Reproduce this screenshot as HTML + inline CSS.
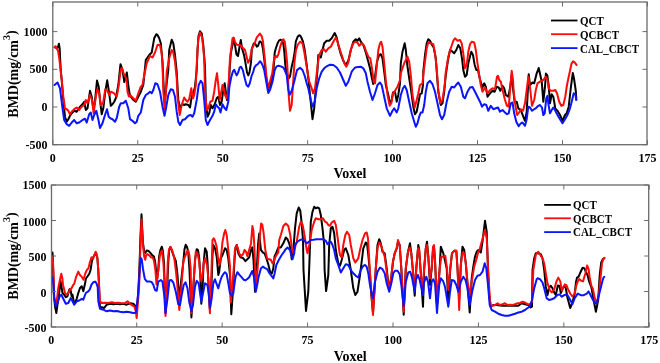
<!DOCTYPE html>
<html><head><meta charset="utf-8"><style>
html,body{margin:0;padding:0;background:#fff;overflow:hidden;width:660px;height:363px;}
svg{display:block;}
text{filter:grayscale(1);}
text{font-family:"Liberation Serif",serif;font-weight:bold;fill:#000;}
.tk{font-size:12px;}
.al{font-size:14px;}
.lg{font-size:11px;}
</style></head><body>
<svg width="660" height="363" viewBox="0 0 660 363">
<rect width="660" height="363" fill="#fff"/>
<clipPath id="c2"><rect x="52.8" y="2.0" width="594.2" height="142.7"/></clipPath>
<polyline clip-path="url(#c2)" points="55.0,46.8 56.8,48.6 58.1,46.8 58.9,43.7 59.7,48.6 60.2,59.8 60.9,72.2 61.7,80.0 63.3,100.0 65.0,116.7 66.7,121.7 68.3,119.2 70.0,115.8 71.7,113.3 74.2,110.8 76.7,111.7 80.0,106.7 82.5,104.2 84.2,101.7 85.8,110.0 87.5,108.3 90.0,90.8 91.7,96.7 93.3,108.3 94.7,104.2 97.0,80.5 98.7,86.7 100.0,100.0 101.7,114.2 103.3,108.3 105.3,91.7 107.2,80.3 109.2,93.3 110.8,105.8 112.5,104.2 114.2,101.7 115.8,98.3 118.3,85.0 120.5,64.2 122.5,70.0 124.3,82.0 126.8,72.4 128.3,85.0 129.5,93.5 130.8,96.7 133.3,100.0 135.8,101.7 138.3,96.7 140.8,91.7 143.3,85.0 145.8,60.0 149.2,55.0 151.7,52.5 154.2,38.3 156.3,34.2 157.5,35.0 159.2,38.3 160.8,43.3 162.5,61.7 164.2,98.0 164.8,101.0 166.7,83.3 168.3,70.0 169.2,50.0 171.7,39.7 173.3,43.3 175.0,55.0 176.7,71.7 178.3,100.0 180.0,107.5 181.7,105.0 182.5,104.2 184.2,105.0 185.8,104.2 188.3,105.0 190.0,107.5 191.7,96.7 193.3,93.3 195.0,86.7 196.7,70.0 197.5,50.0 198.5,36.0 200.0,31.3 201.7,33.3 203.3,45.0 205.0,66.7 205.8,100.0 207.5,116.7 209.2,113.3 210.8,105.0 212.5,108.3 214.7,104.2 216.7,98.3 218.3,96.7 220.0,105.0 221.7,101.7 223.3,90.0 224.7,83.3 225.8,91.7 227.0,100.0 228.3,91.7 229.5,72.0 230.8,53.3 233.3,40.8 234.7,43.3 236.5,54.5 238.0,56.0 239.5,47.0 240.8,40.0 242.0,48.3 244.2,55.8 245.4,62.4 247.0,72.3 248.3,75.4 249.5,72.3 251.0,62.4 251.8,49.0 253.7,43.5 255.5,44.1 256.8,46.6 258.0,46.0 259.6,41.6 260.5,41.6 261.7,42.9 263.0,49.1 264.2,59.0 265.4,70.1 266.5,80.0 268.3,89.0 270.5,84.0 272.5,77.0 273.5,70.0 274.7,52.8 276.0,47.8 277.5,43.5 279.1,40.4 280.9,39.8 282.2,40.4 283.4,44.1 284.4,52.8 285.3,65.2 286.7,73.3 288.7,78.3 290.0,76.7 291.7,66.7 293.3,60.0 294.6,52.8 295.8,41.6 297.7,36.7 299.2,35.3 300.0,35.4 301.3,37.5 303.0,41.7 304.7,50.0 306.7,65.0 308.7,81.7 310.0,95.0 312.5,119.2 314.2,108.3 315.8,88.3 317.5,70.0 318.3,55.0 320.8,57.5 322.5,50.0 324.2,43.3 326.7,40.8 329.2,40.8 331.7,38.3 334.7,33.0 336.7,37.5 338.3,45.0 340.8,54.2 343.3,60.8 345.8,65.0 348.3,60.8 350.8,50.0 353.3,41.7 355.8,39.2 357.5,40.8 359.2,38.3 360.8,41.7 363.3,45.0 365.8,52.5 368.3,61.7 370.0,68.3 371.7,77.0 373.2,84.0 375.0,76.7 377.0,61.7 379.2,55.0 380.8,54.2 382.5,58.3 384.2,71.7 385.8,85.0 388.3,95.0 390.0,104.2 391.7,100.0 393.0,92.5 395.0,91.7 396.7,101.7 398.3,95.0 400.0,83.3 400.8,63.3 402.5,51.7 404.7,43.3 405.8,50.0 407.5,66.7 409.7,81.7 410.8,88.3 413.3,106.7 415.0,114.2 416.7,111.7 418.3,103.3 420.0,94.2 421.7,93.3 423.0,85.0 423.3,71.7 425.0,55.0 426.7,43.3 428.3,39.2 430.0,40.8 432.0,45.0 433.7,47.5 435.8,58.3 437.0,75.0 438.3,91.7 440.8,105.0 442.5,103.3 444.2,91.7 445.8,75.0 448.0,60.0 450.0,50.0 452.5,51.7 454.2,53.3 456.3,50.0 458.3,45.0 460.3,48.3 462.0,58.3 463.3,70.0 465.0,76.7 466.7,75.0 468.3,63.3 470.8,53.3 471.3,51.7 473.0,55.0 474.7,65.0 476.3,70.0 478.0,70.0 479.7,78.3 481.7,85.0 482.0,88.3 484.2,83.3 485.8,86.7 487.5,96.7 490.0,93.3 492.5,90.8 494.7,91.7 496.7,86.7 498.7,87.5 500.3,90.8 502.5,85.8 504.2,88.3 505.8,95.0 508.3,96.7 510.0,88.3 511.7,75.0 513.0,88.3 514.7,102.5 516.7,101.7 518.3,108.3 520.8,110.0 523.3,116.7 525.0,120.8 526.7,111.7 528.7,74.2 530.0,85.0 532.5,82.5 534.2,83.3 536.7,73.3 538.7,68.0 540.3,75.0 541.8,82.2 543.3,101.7 545.0,86.7 545.9,73.5 547.3,75.4 548.6,84.7 550.0,103.3 551.7,94.2 553.3,96.7 555.3,108.3 557.5,110.8 560.0,115.0 562.5,120.8 565.0,115.0 566.7,113.3 568.7,106.7 570.9,87.2 572.8,72.9 574.0,78.5 575.8,90.9 576.3,99.2" fill="none" stroke="#000" stroke-width="2" stroke-linejoin="round" stroke-linecap="round"/>
<polyline clip-path="url(#c2)" points="54.3,47.4 55.6,46.2 56.8,48.0 58.1,51.1 59.3,58.5 60.5,69.7 61.8,80.0 63.3,96.7 65.0,108.3 66.7,109.2 68.3,110.8 70.0,114.2 71.7,111.7 74.2,109.2 76.7,107.5 79.2,110.0 81.7,106.7 84.2,105.0 85.8,100.0 87.5,103.3 90.0,95.0 92.0,100.0 93.7,113.3 95.8,96.7 97.3,89.0 99.2,93.3 100.8,105.0 103.0,103.3 105.3,89.2 107.5,90.8 109.2,95.0 111.0,91.7 114.2,93.3 116.7,96.7 118.3,88.3 120.8,69.3 122.0,68.0 124.2,75.0 125.2,76.1 126.5,80.0 127.5,91.7 128.9,96.6 130.0,95.0 133.3,98.3 135.8,100.8 138.3,93.3 140.8,86.7 142.5,85.0 143.3,80.0 146.7,63.3 150.0,55.8 152.5,57.5 155.0,52.5 157.5,45.0 158.3,44.7 160.0,45.3 161.7,53.3 162.5,65.0 163.3,90.0 164.5,109.0 165.8,95.0 166.7,71.7 169.2,58.3 171.7,50.0 173.3,52.5 175.0,61.7 176.7,78.3 177.5,96.7 179.7,115.0 181.7,105.0 184.2,97.5 185.8,100.0 187.5,101.7 189.2,99.2 191.3,88.3 193.0,98.3 194.2,95.0 195.8,85.0 197.0,60.0 198.2,40.0 200.0,32.5 202.2,37.5 204.2,58.3 205.0,91.7 206.7,110.0 208.3,108.3 210.3,101.7 212.5,100.8 214.2,91.7 215.8,80.0 217.0,73.3 218.3,85.0 219.7,100.0 221.3,91.7 222.5,85.0 223.7,88.3 225.0,95.0 226.7,98.3 228.3,90.0 230.0,58.3 232.5,38.3 233.7,37.5 235.0,41.7 236.7,44.7 240.0,45.0 242.5,47.5 245.0,50.0 246.6,56.5 248.1,62.7 250.0,59.0 251.8,49.0 254.3,44.1 256.8,37.3 259.9,33.6 261.7,36.1 263.0,41.6 264.2,52.8 265.4,65.2 266.5,77.0 268.3,88.0 270.0,81.7 272.3,73.0 273.7,61.5 275.4,55.9 277.0,57.1 278.5,54.0 280.3,46.6 282.2,40.4 283.4,39.2 284.7,41.6 285.9,50.3 287.1,62.7 288.1,80.0 288.7,95.0 290.0,110.8 291.7,105.0 293.3,80.0 294.5,62.0 296.0,50.0 297.7,45.0 300.0,41.7 302.5,43.3 304.2,51.7 306.7,66.7 309.2,81.7 311.7,88.3 313.0,93.3 315.0,88.3 316.5,75.0 317.5,66.7 319.2,55.0 321.7,50.0 324.2,49.2 325.8,51.7 328.3,48.3 330.8,46.7 333.3,41.7 335.8,37.5 337.5,41.7 340.0,50.0 342.5,57.5 344.2,63.3 346.3,66.7 348.3,62.5 350.8,50.0 353.3,43.3 355.3,41.7 357.5,42.5 359.2,45.8 361.7,43.3 364.2,45.8 366.7,53.0 368.5,57.0 370.3,58.3 372.0,68.3 373.7,81.7 375.0,83.3 376.7,66.7 378.3,50.0 380.0,43.3 381.2,41.7 382.5,46.7 384.2,63.3 385.8,80.0 387.5,95.0 389.7,105.8 391.3,103.3 393.0,93.3 395.0,90.8 397.5,86.7 400.0,80.0 400.8,73.3 404.2,63.3 407.5,56.7 409.2,61.7 410.8,75.0 412.5,95.0 414.7,107.5 416.7,100.0 418.3,93.3 420.0,85.0 422.5,83.3 423.3,75.0 425.0,61.7 426.7,48.3 428.3,42.5 430.8,43.3 433.3,44.2 435.0,53.3 436.7,68.3 438.3,90.0 440.3,103.3 442.5,100.0 444.7,85.0 445.8,71.7 448.3,56.7 450.8,48.3 453.3,40.8 455.0,38.3 457.5,40.8 460.0,40.0 461.7,43.3 463.3,53.3 465.0,68.3 466.7,65.0 468.3,51.7 470.0,44.2 471.7,41.7 474.2,42.5 475.8,50.0 477.5,63.3 479.2,75.0 480.8,85.0 482.5,91.7 485.0,87.5 487.5,93.3 490.0,90.0 492.5,88.3 495.0,89.2 497.0,76.7 498.0,75.8 499.2,80.0 500.8,81.7 503.0,91.7 505.0,100.0 507.0,105.8 508.7,106.7 510.0,91.7 511.7,70.8 513.0,80.0 513.7,91.7 515.3,105.0 517.2,115.0 519.2,112.5 520.8,109.2 523.0,110.8 525.0,103.3 527.5,83.3 528.5,76.7 530.3,90.0 532.0,105.8 534.2,100.0 535.8,90.0 537.5,83.3 540.0,81.7 543.3,80.0 545.8,76.7 547.5,80.0 548.7,88.3 550.8,90.8 553.3,90.8 555.3,90.0 557.0,93.3 559.2,101.7 561.3,105.8 563.3,105.0 565.3,96.7 566.5,88.0 567.8,81.0 569.7,72.3 571.5,63.6 573.1,61.4 574.6,62.4 576.5,64.9" fill="none" stroke="#ff0a0a" stroke-width="2" stroke-linejoin="round" stroke-linecap="round"/>
<polyline clip-path="url(#c2)" points="54.5,85.0 57.5,82.5 60.0,88.3 62.5,108.3 64.2,120.0 66.7,124.2 69.2,125.8 71.7,122.5 74.2,120.0 76.7,123.3 79.2,122.5 82.5,120.0 85.0,118.7 86.7,122.5 89.2,114.2 90.8,112.5 92.5,120.0 94.2,115.0 96.3,110.8 98.3,119.2 100.0,128.0 102.5,123.3 105.0,115.0 107.0,109.2 108.7,116.7 110.3,118.3 112.5,119.2 115.0,121.7 116.7,118.3 119.2,106.7 120.8,103.3 123.3,103.3 125.8,100.8 128.3,108.3 130.0,119.2 132.5,120.8 135.0,123.3 136.7,121.7 138.3,115.8 140.8,112.5 143.3,100.0 145.8,95.0 148.3,93.3 150.0,91.7 151.7,93.3 153.3,90.0 155.3,83.3 157.5,84.2 160.0,91.7 162.5,106.7 164.5,115.8 166.3,106.7 168.3,95.0 170.8,89.2 173.0,90.0 175.0,96.7 176.7,111.7 178.3,121.7 180.0,125.0 182.5,120.0 185.0,119.2 188.3,115.8 190.8,115.0 192.5,116.7 194.2,113.3 196.7,100.0 198.7,85.0 200.8,80.8 202.5,83.3 204.2,100.0 205.8,120.0 207.5,125.0 210.0,120.0 212.5,115.8 214.2,111.7 215.8,104.2 217.5,106.7 219.2,108.3 220.5,112.5 222.5,104.2 224.2,107.5 226.3,110.0 228.3,101.7 229.3,87.2 231.2,77.3 233.0,71.1 234.3,69.8 235.5,72.9 236.7,75.4 238.0,72.9 239.8,67.3 241.1,66.7 242.9,70.4 244.8,78.5 246.6,85.3 248.3,86.6 249.7,83.5 251.6,76.0 253.5,71.1 254.3,67.7 256.2,65.2 258.0,64.0 260.1,61.2 261.7,63.3 263.0,66.4 264.2,70.1 266.5,83.0 268.3,93.0 270.0,90.0 272.5,81.7 274.7,70.1 276.6,66.4 278.5,65.8 280.9,66.4 283.4,67.7 284.7,70.1 286.7,75.0 288.3,90.0 289.7,94.7 291.7,90.8 294.2,81.7 295.8,75.0 297.0,70.1 300.0,67.7 302.5,70.0 305.0,76.7 306.7,83.3 308.3,88.3 310.8,100.0 312.5,106.7 314.7,101.7 316.7,88.3 319.2,78.3 321.7,71.7 324.2,68.3 326.7,66.3 330.0,64.7 333.3,65.0 336.7,67.5 340.0,72.5 343.3,80.0 345.8,85.8 348.3,81.7 351.7,71.7 355.0,67.5 358.3,67.0 360.8,66.7 363.3,68.3 365.8,73.3 367.5,81.7 370.0,91.7 372.5,100.0 375.0,93.3 377.5,85.0 380.0,82.5 381.7,85.0 384.2,96.7 386.7,108.3 390.0,115.8 392.5,110.8 394.2,108.3 396.7,112.5 398.3,108.3 400.8,95.0 403.0,88.3 404.7,85.8 406.7,90.0 409.2,101.7 411.7,113.3 414.2,121.7 415.8,126.7 417.5,123.3 419.2,116.7 420.8,112.5 422.5,112.5 424.2,105.0 425.8,91.7 427.5,83.3 430.0,80.8 432.5,84.2 435.0,91.7 437.5,103.3 440.0,115.0 442.0,119.2 444.2,115.0 446.7,101.7 449.2,91.7 451.7,86.7 454.2,87.5 456.7,84.2 458.3,82.5 460.8,86.7 463.3,96.7 465.0,98.3 467.5,91.7 470.0,87.5 472.5,87.0 475.0,91.7 477.5,96.7 480.0,101.7 482.0,106.7 484.2,104.2 486.3,105.0 488.3,110.8 490.8,105.8 493.3,109.2 495.8,108.3 498.0,107.5 500.0,111.7 502.5,110.0 505.0,112.5 507.0,114.2 508.7,113.3 510.8,103.3 512.5,102.5 514.2,113.3 516.3,121.7 518.7,126.3 520.8,123.3 522.5,122.5 525.0,125.8 526.7,119.2 528.3,106.7 530.0,107.5 532.0,110.8 534.2,109.2 535.8,108.3 538.3,105.8 540.0,105.0 542.0,107.5 543.3,115.0 544.7,113.3 546.3,98.3 547.5,95.8 548.3,103.3 550.0,113.3 551.7,110.0 553.3,107.5 555.0,110.0 557.5,115.0 560.0,119.2 562.5,123.3 565.0,119.2 567.5,115.0 570.0,108.3 571.7,101.7 573.7,93.3 575.3,94.2 576.3,100.0" fill="none" stroke="#0a14ff" stroke-width="2" stroke-linejoin="round" stroke-linecap="round"/>
<rect x="52.8" y="2.0" width="594.2" height="142.7" fill="none" stroke="#6a6a6a" stroke-width="1.3"/>
<line x1="52.80" y1="144.7" x2="52.80" y2="140.2" stroke="#6a6a6a" stroke-width="1"/>
<line x1="52.80" y1="2.0" x2="52.80" y2="6.5" stroke="#6a6a6a" stroke-width="1"/>
<text transform="translate(52.80,157.5) scale(1,1.07)" class="tk" text-anchor="middle" dominant-baseline="central">0</text>
<line x1="137.75" y1="144.7" x2="137.75" y2="140.2" stroke="#6a6a6a" stroke-width="1"/>
<line x1="137.75" y1="2.0" x2="137.75" y2="6.5" stroke="#6a6a6a" stroke-width="1"/>
<text transform="translate(137.75,157.5) scale(1,1.07)" class="tk" text-anchor="middle" dominant-baseline="central">25</text>
<line x1="222.70" y1="144.7" x2="222.70" y2="140.2" stroke="#6a6a6a" stroke-width="1"/>
<line x1="222.70" y1="2.0" x2="222.70" y2="6.5" stroke="#6a6a6a" stroke-width="1"/>
<text transform="translate(222.70,157.5) scale(1,1.07)" class="tk" text-anchor="middle" dominant-baseline="central">50</text>
<line x1="307.65" y1="144.7" x2="307.65" y2="140.2" stroke="#6a6a6a" stroke-width="1"/>
<line x1="307.65" y1="2.0" x2="307.65" y2="6.5" stroke="#6a6a6a" stroke-width="1"/>
<text transform="translate(307.65,157.5) scale(1,1.07)" class="tk" text-anchor="middle" dominant-baseline="central">75</text>
<line x1="392.60" y1="144.7" x2="392.60" y2="140.2" stroke="#6a6a6a" stroke-width="1"/>
<line x1="392.60" y1="2.0" x2="392.60" y2="6.5" stroke="#6a6a6a" stroke-width="1"/>
<text transform="translate(392.60,157.5) scale(1,1.07)" class="tk" text-anchor="middle" dominant-baseline="central">100</text>
<line x1="477.55" y1="144.7" x2="477.55" y2="140.2" stroke="#6a6a6a" stroke-width="1"/>
<line x1="477.55" y1="2.0" x2="477.55" y2="6.5" stroke="#6a6a6a" stroke-width="1"/>
<text transform="translate(477.55,157.5) scale(1,1.07)" class="tk" text-anchor="middle" dominant-baseline="central">125</text>
<line x1="562.50" y1="144.7" x2="562.50" y2="140.2" stroke="#6a6a6a" stroke-width="1"/>
<line x1="562.50" y1="2.0" x2="562.50" y2="6.5" stroke="#6a6a6a" stroke-width="1"/>
<text transform="translate(562.50,157.5) scale(1,1.07)" class="tk" text-anchor="middle" dominant-baseline="central">150</text>
<line x1="647.45" y1="144.7" x2="647.45" y2="140.2" stroke="#6a6a6a" stroke-width="1"/>
<line x1="647.45" y1="2.0" x2="647.45" y2="6.5" stroke="#6a6a6a" stroke-width="1"/>
<text transform="translate(647.45,157.5) scale(1,1.07)" class="tk" text-anchor="middle" dominant-baseline="central">175</text>
<line x1="52.8" y1="144.70" x2="57.3" y2="144.70" stroke="#6a6a6a" stroke-width="1"/>
<line x1="647.0" y1="144.70" x2="642.5" y2="144.70" stroke="#6a6a6a" stroke-width="1"/>
<text transform="translate(47.5,144.70) scale(1,1.07)" class="tk" text-anchor="end" dominant-baseline="central">-500</text>
<line x1="52.8" y1="107.00" x2="57.3" y2="107.00" stroke="#6a6a6a" stroke-width="1"/>
<line x1="647.0" y1="107.00" x2="642.5" y2="107.00" stroke="#6a6a6a" stroke-width="1"/>
<text transform="translate(47.5,107.00) scale(1,1.07)" class="tk" text-anchor="end" dominant-baseline="central">0</text>
<line x1="52.8" y1="69.30" x2="57.3" y2="69.30" stroke="#6a6a6a" stroke-width="1"/>
<line x1="647.0" y1="69.30" x2="642.5" y2="69.30" stroke="#6a6a6a" stroke-width="1"/>
<text transform="translate(47.5,69.30) scale(1,1.07)" class="tk" text-anchor="end" dominant-baseline="central">500</text>
<line x1="52.8" y1="31.60" x2="57.3" y2="31.60" stroke="#6a6a6a" stroke-width="1"/>
<line x1="647.0" y1="31.60" x2="642.5" y2="31.60" stroke="#6a6a6a" stroke-width="1"/>
<text transform="translate(47.5,31.60) scale(1,1.07)" class="tk" text-anchor="end" dominant-baseline="central">1000</text>
<text x="349.9" y="173" class="al" text-anchor="middle" dominant-baseline="central">Voxel</text>
<text transform="translate(18,74) rotate(-90)" class="al" text-anchor="middle">BMD(mg/cm<tspan font-size="10" dy="-8">3</tspan><tspan dy="6">)</tspan></text>
<line x1="551" y1="20.5" x2="577.5" y2="20.5" stroke="#000" stroke-width="1.8"/>
<text transform="translate(580,21.50) scale(1,1.12)" class="lg" dominant-baseline="central">QCT</text>
<line x1="551" y1="34.2" x2="577.5" y2="34.2" stroke="#ff0a0a" stroke-width="1.8"/>
<text transform="translate(580,35.20) scale(1,1.12)" class="lg" dominant-baseline="central">QCBCT</text>
<line x1="551" y1="48.1" x2="577.5" y2="48.1" stroke="#0a14ff" stroke-width="1.8"/>
<text transform="translate(580,49.10) scale(1,1.12)" class="lg" dominant-baseline="central">CAL_CBCT</text>
<clipPath id="c185"><rect x="51.5" y="185.0" width="597.2" height="142.0"/></clipPath>
<polyline clip-path="url(#c185)" points="52.5,252.5 52.8,257.4 53.7,293.0 55.0,306.3 56.3,313.0 57.5,304.7 59.2,293.0 60.5,281.0 61.7,288.0 62.5,293.0 64.2,294.7 65.8,297.2 67.5,296.3 69.2,289.7 70.3,288.8 71.7,296.3 72.5,294.7 73.7,301.3 75.0,303.0 76.7,298.8 78.3,293.0 80.0,288.0 81.7,286.3 83.3,291.3 85.0,283.8 85.9,278.5 87.8,276.0 89.4,273.5 90.6,269.8 91.9,261.1 93.1,257.4 94.6,254.9 96.1,253.7 97.3,257.4 98.3,269.8 98.9,282.2 99.5,298.0 100.0,308.0 101.7,307.2 104.2,308.0 106.7,304.7 110.0,303.8 113.3,304.3 116.7,303.8 120.0,304.3 123.3,303.8 126.7,304.7 130.0,303.3 133.3,303.8 135.0,305.5 136.7,308.0 138.3,293.0 139.5,265.0 140.5,235.0 141.5,214.3 142.3,230.0 143.0,243.0 144.2,251.6 145.4,252.9 146.7,250.4 148.5,251.0 150.4,252.9 152.3,255.3 153.9,256.6 155.1,261.5 156.3,272.7 157.2,278.9 158.3,270.0 159.1,256.6 160.3,250.4 161.8,246.7 162.8,250.4 164.0,262.8 165.5,312.0 167.3,285.0 168.3,262.0 169.2,250.0 170.3,247.0 171.7,250.0 173.3,255.0 175.8,260.8 177.5,275.0 179.0,300.0 181.0,282.0 183.2,262.8 184.5,249.2 185.7,244.8 186.9,246.7 188.2,251.6 189.5,270.0 191.4,317.5 193.3,290.0 195.0,260.0 196.7,249.2 198.0,250.0 199.2,258.0 200.3,275.0 201.3,303.7 202.5,290.0 203.5,265.0 205.0,248.3 206.7,251.7 207.5,262.0 208.5,285.0 209.9,310.0 211.5,285.0 212.5,255.0 213.3,245.0 215.0,248.3 216.7,256.7 218.3,275.0 219.2,271.7 220.8,258.3 222.5,255.0 225.0,248.3 226.7,250.0 228.3,258.3 230.0,275.0 231.3,314.2 233.0,290.0 234.5,260.0 235.5,247.4 236.8,245.0 238.4,253.6 240.5,257.3 243.0,258.0 245.4,261.1 247.3,259.2 249.2,257.3 251.0,249.9 252.3,247.4 253.5,260.0 255.0,291.7 256.5,275.0 258.0,245.0 259.2,233.5 260.9,249.9 262.8,252.4 264.7,253.6 266.5,258.6 268.4,264.8 270.2,272.2 271.8,273.5 273.3,268.5 274.6,256.1 276.4,252.4 278.3,247.5 280.8,247.5 283.3,243.3 285.8,237.5 287.5,239.2 289.2,243.3 290.8,250.0 291.7,259.2 293.0,255.0 295.0,228.3 296.7,213.3 298.7,207.5 300.3,210.8 301.7,223.3 303.0,240.0 303.5,270.0 306.0,310.9 308.3,291.7 309.5,260.0 310.8,221.7 312.5,211.7 314.2,206.7 315.8,208.3 317.5,207.5 319.2,208.3 320.8,215.0 322.5,228.3 324.2,245.0 324.6,270.0 326.1,291.1 328.3,275.0 329.2,245.0 330.8,228.3 332.5,226.7 334.2,233.3 335.8,250.0 338.3,263.3 340.0,265.8 341.7,260.0 344.2,250.0 345.8,248.3 348.3,255.0 350.8,270.0 353.3,288.3 355.3,295.0 357.5,291.7 360.0,275.0 362.5,255.0 363.3,248.3 365.8,242.5 367.0,243.3 368.3,255.0 369.7,270.0 371.3,295.0 373.0,313.0 374.5,290.0 375.8,268.0 377.5,245.0 379.2,239.2 380.8,243.3 382.5,251.7 384.7,253.3 386.7,268.3 388.3,283.3 389.5,288.0 391.3,276.7 393.0,261.7 394.7,253.3 396.7,248.3 398.0,242.0 399.7,245.0 401.3,268.3 403.7,314.7 405.8,268.3 408.0,251.7 410.0,243.3 411.3,253.3 413.0,271.7 414.7,295.8 416.3,268.3 418.3,245.0 419.2,250.0 420.8,273.3 423.0,306.7 424.2,268.3 425.8,248.3 427.0,241.7 428.3,256.7 430.0,285.0 431.7,268.3 433.0,250.0 434.0,247.0 435.0,260.0 437.0,305.0 439.7,268.3 440.8,246.7 443.3,253.3 446.7,268.3 448.3,303.3 450.3,268.3 452.0,253.3 454.2,250.8 456.3,250.8 457.5,268.3 459.2,300.0 460.8,265.0 462.5,246.7 464.2,250.0 465.8,263.3 467.5,285.0 469.7,312.5 471.7,278.3 473.3,266.7 475.0,256.7 476.7,251.7 478.3,250.0 479.2,250.8 480.8,252.5 482.5,241.7 485.0,220.8 486.7,231.7 487.5,255.0 488.0,270.0 489.2,295.0 490.8,306.7 493.3,305.0 496.7,305.0 500.0,305.5 503.3,305.8 510.0,305.8 515.0,305.8 518.3,305.8 521.7,303.3 525.0,304.2 528.3,305.0 530.3,307.5 532.0,306.7 532.5,270.0 534.2,258.3 535.8,253.3 538.3,253.3 540.8,254.2 542.5,258.3 544.2,270.0 545.8,286.7 547.5,295.0 549.2,287.5 550.8,285.8 552.5,288.3 554.2,292.5 555.8,295.0 557.8,285.5 559.5,286.0 560.8,293.0 562.5,289.0 564.2,286.0 565.8,288.0 567.3,297.0 570.2,308.0 572.4,302.7 574.7,293.6 576.0,282.0 577.0,277.6 578.5,276.8 580.8,271.5 582.6,267.7 584.5,268.5 586.1,272.3 587.6,275.3 589.1,281.4 591.4,287.4 593.6,299.7 595.9,311.8 598.2,299.7 599.7,275.3 601.2,262.4 602.7,259.4 603.8,258.6" fill="none" stroke="#000" stroke-width="2" stroke-linejoin="round" stroke-linecap="round"/>
<polyline clip-path="url(#c185)" points="52.7,257.4 53.7,276.0 54.2,298.0 55.3,303.0 56.7,301.3 58.3,288.0 59.9,280.0 61.3,273.7 62.4,278.5 63.0,284.7 65.0,293.0 66.7,294.7 68.3,293.0 70.0,289.7 71.7,288.0 73.3,284.7 74.2,284.0 76.0,277.2 78.3,271.6 79.7,274.7 81.6,276.6 83.5,279.7 85.3,273.5 86.9,269.8 88.4,268.5 89.9,262.3 91.5,257.4 93.1,258.6 94.4,254.9 95.6,251.8 96.8,254.3 97.7,261.1 98.6,276.0 99.3,290.0 100.0,301.3 101.7,303.0 105.0,302.7 108.3,303.0 111.7,302.2 115.0,303.0 118.3,302.7 121.7,303.3 125.0,303.0 127.5,301.3 130.0,303.8 132.5,305.5 134.2,306.3 135.8,311.3 136.7,318.0 138.0,301.3 139.2,284.7 140.3,250.0 141.5,219.2 143.0,245.4 144.2,256.6 145.2,259.7 146.1,255.3 147.3,254.1 149.2,255.3 151.0,257.2 152.9,257.8 154.1,261.5 155.3,269.0 156.5,284.5 158.3,270.0 159.7,257.0 160.9,252.0 162.0,250.5 163.4,262.8 164.6,285.0 165.5,316.0 167.0,290.0 167.7,262.8 169.0,249.2 170.5,246.9 172.1,250.4 173.3,254.1 174.6,260.3 175.8,270.2 177.0,281.4 179.3,310.0 181.5,285.0 183.2,262.8 184.5,257.8 185.7,255.3 186.9,251.6 188.2,250.4 189.4,255.3 190.7,269.0 191.4,313.3 193.3,285.0 195.8,251.7 197.5,253.3 199.2,261.7 200.3,275.0 201.3,281.0 202.5,276.0 203.8,262.0 205.0,258.3 207.0,265.0 208.3,278.3 209.9,313.3 211.5,270.0 212.5,240.0 213.7,238.3 215.0,240.8 216.7,247.0 218.0,258.0 219.5,265.0 221.2,255.0 222.5,241.7 224.2,233.3 225.3,230.0 226.7,235.0 228.3,250.0 230.0,266.7 230.8,302.5 232.5,285.0 234.2,262.0 234.9,249.9 236.8,245.0 238.0,248.7 239.3,253.6 241.1,256.1 243.0,254.3 244.6,249.9 246.1,251.8 247.3,256.1 249.2,249.9 251.0,243.7 252.4,226.0 253.4,231.0 254.3,245.0 255.8,286.7 257.5,270.0 259.8,237.2 261.1,223.5 262.3,224.8 263.5,232.2 264.8,245.0 265.3,249.9 267.1,258.6 269.0,259.2 270.8,259.8 272.7,263.5 274.0,261.1 275.8,256.1 278.3,252.4 279.2,240.0 280.9,234.7 283.4,226.0 285.8,223.5 288.3,226.0 290.2,234.7 291.7,246.7 293.3,253.3 296.7,241.7 299.2,226.7 300.8,221.7 302.5,224.2 304.2,233.3 306.7,250.0 307.5,253.3 310.0,241.7 311.7,230.0 314.2,221.7 315.8,218.3 318.3,219.2 320.8,219.2 323.0,218.3 325.0,221.7 326.7,222.5 328.3,225.0 330.0,225.8 331.7,222.5 334.2,220.8 335.8,225.0 337.5,236.7 339.2,250.0 340.0,255.0 341.7,257.5 343.3,245.0 345.3,235.0 347.0,231.7 349.2,235.0 350.8,245.0 353.3,258.3 355.3,262.5 358.3,258.3 360.0,250.0 362.5,240.0 365.0,233.3 366.7,232.5 368.0,238.3 369.7,268.3 371.3,291.7 373.0,315.0 374.5,290.0 375.8,268.3 377.5,248.3 379.2,242.5 380.8,244.2 382.5,250.0 384.7,256.7 386.7,271.7 388.3,285.0 389.7,288.3 391.3,276.7 393.0,261.7 394.7,253.3 396.7,248.3 398.0,240.0 399.7,245.0 401.3,268.3 403.7,311.7 405.8,268.3 408.0,251.7 409.7,247.5 411.3,253.3 413.0,271.7 414.7,288.3 416.3,268.3 418.0,248.3 419.2,250.0 420.8,273.3 422.5,288.3 424.2,268.3 425.8,248.3 427.0,245.0 428.3,256.7 430.0,278.3 431.7,268.3 433.0,246.7 434.0,245.0 435.0,260.0 437.0,305.8 439.7,268.3 441.3,256.7 443.3,256.7 445.3,255.8 447.0,268.3 448.3,290.0 450.3,268.3 452.0,253.3 454.2,250.8 456.3,250.8 457.5,268.3 459.2,310.0 460.8,265.0 462.5,252.5 464.2,253.3 465.8,263.3 467.5,281.7 470.0,295.0 471.7,281.7 474.2,266.7 476.7,258.3 478.3,251.7 479.5,250.0 481.7,241.7 485.0,230.0 486.7,238.3 488.3,273.3 490.0,300.0 490.5,306.7 492.5,305.8 495.0,305.0 497.5,303.3 500.0,305.0 502.5,304.2 505.0,303.3 507.5,305.0 510.0,304.7 512.5,305.0 515.0,304.2 517.5,303.3 520.0,303.0 522.5,301.7 525.0,302.5 527.5,304.2 530.0,304.2 532.0,301.7 533.3,270.0 535.8,255.0 538.3,251.7 540.3,255.0 542.5,258.3 544.2,263.3 545.8,273.3 547.5,283.3 549.7,290.0 551.7,292.5 554.2,289.2 556.5,281.4 558.3,277.6 560.3,281.4 561.8,290.5 563.3,287.4 564.8,284.4 566.4,285.2 567.9,288.9 570.2,293.5 572.4,296.5 574.7,293.5 576.2,285.9 577.7,281.4 579.2,279.1 581.1,280.6 583.0,281.4 585.3,273.8 587.1,265.5 588.6,269.2 589.8,278.3 591.4,285.9 592.9,288.9 594.4,296.5 595.9,302.0 597.5,300.0 598.9,293.5 600.5,278.3 602.0,263.2 603.5,258.6 604.7,257.9" fill="none" stroke="#ff0a0a" stroke-width="2" stroke-linejoin="round" stroke-linecap="round"/>
<polyline clip-path="url(#c185)" points="52.5,277.5 53.7,285.9 54.2,298.0 55.8,306.3 57.5,303.0 59.7,296.3 61.3,294.7 63.3,298.8 65.8,303.8 68.3,303.0 70.8,298.0 72.5,301.3 74.2,304.7 76.7,301.3 79.2,300.5 81.7,298.8 83.3,299.7 85.8,293.0 88.3,291.3 89.7,289.6 91.5,284.7 93.4,282.2 95.2,281.6 96.5,283.4 97.7,287.1 98.3,301.3 100.0,308.8 103.3,309.7 106.7,311.3 110.0,310.5 113.3,311.3 116.7,311.0 120.0,311.7 123.3,312.2 126.7,311.7 130.0,312.2 133.3,313.0 135.8,312.7 137.5,301.3 139.2,278.0 140.5,257.8 141.7,259.1 143.0,269.0 144.8,278.9 146.7,281.4 149.2,281.4 151.6,282.0 153.3,284.7 155.0,290.0 156.7,290.8 158.3,281.7 160.8,280.0 162.5,281.7 164.2,295.0 165.5,313.3 167.5,298.3 169.4,280.5 171.2,280.0 173.3,282.5 175.8,291.7 178.3,304.2 180.0,305.0 181.7,295.0 183.7,285.0 185.5,282.3 187.5,288.3 189.2,301.7 191.4,311.3 193.0,305.0 195.0,286.7 196.7,280.8 198.7,283.3 200.3,295.0 201.3,301.6 203.3,291.7 205.0,283.3 207.5,285.0 209.2,298.3 209.9,307.8 211.7,298.3 213.3,283.3 215.0,279.2 216.7,284.2 218.3,288.3 220.0,281.7 221.7,276.7 223.3,274.2 225.0,272.2 226.7,274.2 228.3,283.3 230.0,293.3 231.7,295.8 233.3,293.3 235.0,280.0 235.5,277.2 237.4,272.2 239.3,274.7 241.1,276.6 243.6,279.7 245.4,280.3 247.3,279.0 249.2,277.2 251.0,273.5 252.3,271.0 254.1,277.2 255.8,291.7 257.5,283.3 258.5,277.2 260.9,268.5 262.8,266.6 264.7,267.9 267.1,269.1 269.6,273.5 271.5,275.9 273.3,278.4 274.6,273.5 276.4,264.8 278.9,259.8 281.7,255.0 284.2,251.7 285.0,250.0 287.5,247.5 290.0,250.0 290.8,253.3 292.5,259.2 294.2,253.3 295.0,245.0 297.5,241.7 300.0,240.0 302.5,239.2 304.7,240.8 306.7,243.3 309.2,241.7 310.8,240.0 313.3,239.7 316.7,239.2 320.0,239.2 323.3,239.2 325.8,240.8 327.5,244.2 329.2,242.5 330.8,241.7 332.5,245.0 334.2,250.0 335.8,258.3 338.3,265.0 340.8,272.5 343.3,268.3 345.8,264.2 348.3,265.0 350.8,270.0 353.3,273.3 355.8,275.8 358.3,277.5 360.8,270.0 363.3,265.8 365.0,265.0 366.7,266.7 368.3,273.3 370.0,285.0 371.7,293.3 373.0,298.3 375.0,281.7 377.5,271.7 380.0,267.5 382.5,269.2 384.7,273.3 386.7,283.3 389.2,291.7 391.3,283.3 393.3,273.3 395.0,270.8 397.5,270.8 399.7,274.2 401.3,285.0 403.7,305.8 405.8,281.7 408.3,272.5 410.3,271.7 412.0,277.5 414.7,291.7 415.8,280.0 418.0,275.0 419.7,280.0 423.0,295.0 423.7,283.3 426.3,276.7 428.0,281.7 430.0,298.3 431.7,281.7 433.3,279.2 435.0,283.3 437.0,313.0 439.2,285.0 440.8,278.3 443.0,280.8 445.0,286.7 448.3,306.7 450.3,290.0 451.7,280.0 454.2,280.8 456.3,285.0 458.3,291.7 460.8,281.7 463.3,276.7 465.5,280.0 467.5,288.3 469.7,305.0 472.5,290.0 475.0,280.0 477.5,275.8 480.0,275.0 482.5,271.7 484.7,263.3 486.3,268.3 488.0,285.0 489.7,305.0 491.7,310.0 495.0,311.7 498.3,313.7 501.7,315.0 505.0,315.8 508.3,315.8 511.7,314.7 515.0,313.7 518.3,312.5 521.7,311.7 525.0,310.0 528.3,307.5 530.3,305.8 532.0,300.0 534.2,288.3 536.7,279.2 537.5,278.3 540.0,279.2 542.5,282.5 544.2,288.3 546.7,298.3 549.2,300.0 551.7,299.2 554.2,298.3 557.3,295.0 559.5,294.4 561.8,296.7 564.1,295.2 567.1,294.4 570.2,299.7 572.4,304.2 574.7,298.2 577.7,293.6 580.8,295.2 583.8,295.2 586.8,293.6 588.6,291.4 590.6,295.2 592.9,299.7 594.7,302.7 596.7,303.5 598.9,295.2 601.2,286.1 602.7,280.0 603.5,277.6 604.2,276.8" fill="none" stroke="#0a14ff" stroke-width="2" stroke-linejoin="round" stroke-linecap="round"/>
<rect x="51.5" y="185.0" width="597.2" height="142.0" fill="none" stroke="#6a6a6a" stroke-width="1.3"/>
<line x1="51.30" y1="327.0" x2="51.30" y2="322.5" stroke="#6a6a6a" stroke-width="1"/>
<line x1="51.30" y1="185.0" x2="51.30" y2="189.5" stroke="#6a6a6a" stroke-width="1"/>
<text transform="translate(51.30,340) scale(1,1.07)" class="tk" text-anchor="middle" dominant-baseline="central">0</text>
<line x1="136.72" y1="327.0" x2="136.72" y2="322.5" stroke="#6a6a6a" stroke-width="1"/>
<line x1="136.72" y1="185.0" x2="136.72" y2="189.5" stroke="#6a6a6a" stroke-width="1"/>
<text transform="translate(136.72,340) scale(1,1.07)" class="tk" text-anchor="middle" dominant-baseline="central">25</text>
<line x1="222.15" y1="327.0" x2="222.15" y2="322.5" stroke="#6a6a6a" stroke-width="1"/>
<line x1="222.15" y1="185.0" x2="222.15" y2="189.5" stroke="#6a6a6a" stroke-width="1"/>
<text transform="translate(222.15,340) scale(1,1.07)" class="tk" text-anchor="middle" dominant-baseline="central">50</text>
<line x1="307.57" y1="327.0" x2="307.57" y2="322.5" stroke="#6a6a6a" stroke-width="1"/>
<line x1="307.57" y1="185.0" x2="307.57" y2="189.5" stroke="#6a6a6a" stroke-width="1"/>
<text transform="translate(307.57,340) scale(1,1.07)" class="tk" text-anchor="middle" dominant-baseline="central">75</text>
<line x1="393.00" y1="327.0" x2="393.00" y2="322.5" stroke="#6a6a6a" stroke-width="1"/>
<line x1="393.00" y1="185.0" x2="393.00" y2="189.5" stroke="#6a6a6a" stroke-width="1"/>
<text transform="translate(393.00,340) scale(1,1.07)" class="tk" text-anchor="middle" dominant-baseline="central">100</text>
<line x1="478.43" y1="327.0" x2="478.43" y2="322.5" stroke="#6a6a6a" stroke-width="1"/>
<line x1="478.43" y1="185.0" x2="478.43" y2="189.5" stroke="#6a6a6a" stroke-width="1"/>
<text transform="translate(478.43,340) scale(1,1.07)" class="tk" text-anchor="middle" dominant-baseline="central">125</text>
<line x1="563.85" y1="327.0" x2="563.85" y2="322.5" stroke="#6a6a6a" stroke-width="1"/>
<line x1="563.85" y1="185.0" x2="563.85" y2="189.5" stroke="#6a6a6a" stroke-width="1"/>
<text transform="translate(563.85,340) scale(1,1.07)" class="tk" text-anchor="middle" dominant-baseline="central">150</text>
<line x1="649.27" y1="327.0" x2="649.27" y2="322.5" stroke="#6a6a6a" stroke-width="1"/>
<line x1="649.27" y1="185.0" x2="649.27" y2="189.5" stroke="#6a6a6a" stroke-width="1"/>
<text transform="translate(649.27,340) scale(1,1.07)" class="tk" text-anchor="middle" dominant-baseline="central">175</text>
<line x1="51.5" y1="327.00" x2="56.0" y2="327.00" stroke="#6a6a6a" stroke-width="1"/>
<line x1="648.7" y1="327.00" x2="644.2" y2="327.00" stroke="#6a6a6a" stroke-width="1"/>
<text transform="translate(46.5,328.00) scale(1,1.07)" class="tk" text-anchor="end" dominant-baseline="central">-500</text>
<line x1="51.5" y1="291.50" x2="56.0" y2="291.50" stroke="#6a6a6a" stroke-width="1"/>
<line x1="648.7" y1="291.50" x2="644.2" y2="291.50" stroke="#6a6a6a" stroke-width="1"/>
<text transform="translate(46.5,292.50) scale(1,1.07)" class="tk" text-anchor="end" dominant-baseline="central">0</text>
<line x1="51.5" y1="256.00" x2="56.0" y2="256.00" stroke="#6a6a6a" stroke-width="1"/>
<line x1="648.7" y1="256.00" x2="644.2" y2="256.00" stroke="#6a6a6a" stroke-width="1"/>
<text transform="translate(46.5,257.00) scale(1,1.07)" class="tk" text-anchor="end" dominant-baseline="central">500</text>
<line x1="51.5" y1="220.50" x2="56.0" y2="220.50" stroke="#6a6a6a" stroke-width="1"/>
<line x1="648.7" y1="220.50" x2="644.2" y2="220.50" stroke="#6a6a6a" stroke-width="1"/>
<text transform="translate(46.5,221.50) scale(1,1.07)" class="tk" text-anchor="end" dominant-baseline="central">1000</text>
<line x1="51.5" y1="185.00" x2="56.0" y2="185.00" stroke="#6a6a6a" stroke-width="1"/>
<line x1="648.7" y1="185.00" x2="644.2" y2="185.00" stroke="#6a6a6a" stroke-width="1"/>
<text transform="translate(46.5,185.00) scale(1,1.07)" class="tk" text-anchor="end" dominant-baseline="central">1500</text>
<text x="350.1" y="356" class="al" text-anchor="middle" dominant-baseline="central">Voxel</text>
<text transform="translate(18,256) rotate(-90)" class="al" text-anchor="middle">BMD(mg/cm<tspan font-size="10" dy="-8">3</tspan><tspan dy="6">)</tspan></text>
<line x1="544.2" y1="204.9" x2="570.9" y2="204.9" stroke="#000" stroke-width="1.8"/>
<text transform="translate(573,205.50) scale(1,1.12)" class="lg" dominant-baseline="central">QCT</text>
<line x1="544.2" y1="218.3" x2="570.9" y2="218.3" stroke="#ff0a0a" stroke-width="1.8"/>
<text transform="translate(573,218.90) scale(1,1.12)" class="lg" dominant-baseline="central">QCBCT</text>
<line x1="544.2" y1="232.1" x2="570.9" y2="232.1" stroke="#0a14ff" stroke-width="1.8"/>
<text transform="translate(573,232.70) scale(1,1.12)" class="lg" dominant-baseline="central">CAL_CBCT</text>
</svg></body></html>
